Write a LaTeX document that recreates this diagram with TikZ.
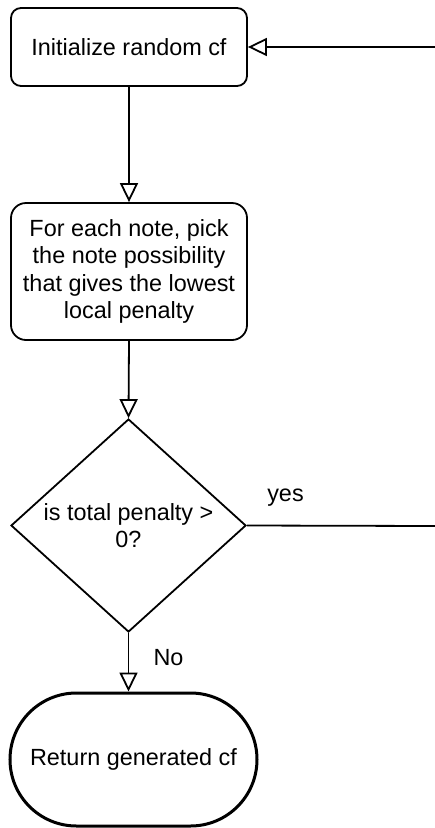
\documentclass[tikz,border=0pt]{standalone}
\usepackage{fontspec}
\setmainfont{Liberation Sans}
\usetikzlibrary{arrows.meta,shapes.geometric}

\begin{document}
\begin{tikzpicture}[x=1pt,y=1pt,
  every node/.style={font=\fontsize{23.4}{27.3}\selectfont},
  proc/.style={draw, line width=1.8pt, fill=white, rounded corners=#1,
    minimum width=236pt, inner sep=0pt, align=center},
  decision/.style={draw, line width=1.8pt, fill=white, diamond, shape aspect=1.15,
    minimum width=235pt, minimum height=213pt, inner sep=0pt, align=center},
  terminal/.style={draw, line width=3pt, fill=white, rounded corners=66.5pt,
    minimum width=247pt, minimum height=133pt, inner sep=0pt, align=center},
  flow/.style={line width=1.8pt, -{Triangle[open, length=19pt, width=18pt, line width=1.8pt]}},
  link/.style={line width=1.8pt},
  tag/.style={inner sep=0pt}
]
\useasboundingbox (0,0) rectangle (435,-828);

% process steps
\node[proc=10pt, minimum height=78pt] (init) at (129,-47) {Initialize random cf};
\node[proc=15pt, minimum height=137pt] (pick) at (129,-271.5)
  {For each note, pick\\the note possibility\\that gives the lowest\\local penalty};

% decision
\node[decision] (check) at (128.5,-525.5) {is total penalty >\\0?};

% terminator with semicircular ends
\node[terminal] (done) at (133.5,-759.5) {Return generated cf};

% loop ends leaving the drawing on the right
\coordinate (loopin) at (435,-47);
\coordinate (loopout) at (435,-526);

% connectors
\draw[flow] (init.south) -- (pick.north);
\draw[flow] (pick.south) -- (check.north);
\draw[flow] (check.south) -- (check.south |- done.north);
\draw[link] (check.east) -- (loopout);
\draw[flow] (loopin) -- (init.east);

% branch labels
\node[tag] (yeslbl) at (285.5,-498) {yes};
\node[tag] (nolbl) at (168.5,-658) {No};
\end{tikzpicture}
\end{document}
